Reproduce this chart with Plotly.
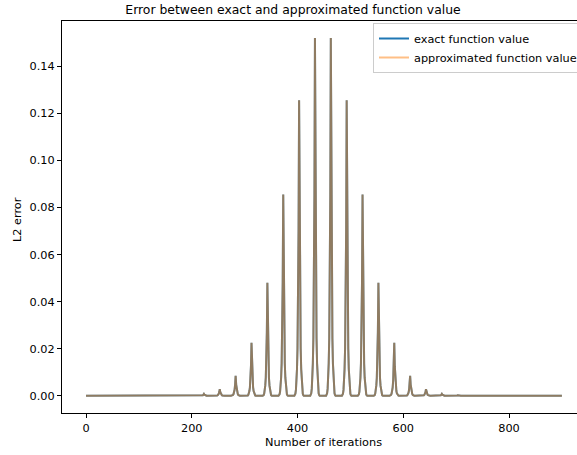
import plotly.graph_objects as go

# Peak iterations and peak L2 error values
peak_iters = [193, 223, 253, 283, 313, 343, 373, 403, 433, 463, 493, 523, 553, 583, 613, 643, 673, 703]
peak_errors = [0.0002, 0.0008, 0.0028, 0.0085, 0.0225, 0.048, 0.0855, 0.1255, 0.152,
               0.152, 0.1255, 0.0855, 0.048, 0.0225, 0.0085, 0.0028, 0.0008, 0.0002]
# Shape of a spike (relative to its peak), by iteration offset
spike_offsets = [-9, -8, -7, -6, -5, -4, -3, -2, -1, 0, 1, 2, 3, 4, 5, 6, 7, 8, 9]
spike_shape = [0, 0.002, 0.007, 0.02, 0.045, 0.09, 0.16, 0.3, 0.56, 1.0,
               0.56, 0.3, 0.16, 0.09, 0.045, 0.02, 0.007, 0.002, 0]
first_iter, last_iter = 0, 900

iters = [first_iter]
errors = [0.0]
for c, h in zip(peak_iters, peak_errors):
    for o, s in zip(spike_offsets, spike_shape):
        iters.append(c + o)
        errors.append(h * s)
iters.append(last_iter)
errors.append(0.0)

FONT = "DejaVu Sans"
FS = 11.3
fig = go.Figure()
fig.add_trace(go.Scatter(x=iters, y=errors, mode="lines", name="exact function value",
                         line=dict(color="#1f77b4", width=2)))
fig.add_trace(go.Scatter(x=iters, y=errors, mode="lines", name="approximated function value",
                         line=dict(color="rgba(255,127,14,0.5)", width=2)))

fig.update_layout(
    width=577, height=455,
    margin=dict(l=62, r=0, t=21, b=42, autoexpand=False),
    plot_bgcolor="white", paper_bgcolor="white",
    font=dict(family=FONT, size=FS, color="black"),
    title=dict(text="Error between exact and approximated function value",
               x=293/577, xref="container", xanchor="center",
               y=1-10/455, yref="container", yanchor="middle",
               font=dict(family=FONT, size=12.4, color="black")),
    showlegend=True,
    legend=dict(x=(373-62)/515, y=1-2/392, xanchor="left", yanchor="top",
                bgcolor="rgba(255,255,255,0.8)", bordercolor="#cccccc", borderwidth=1,
                font=dict(family=FONT, size=FS, color="black"), itemwidth=30,
                tracegroupgap=0),
    xaxis=dict(range=[-45.4, 928.6], tickmode="linear", tick0=0, dtick=200,
               showgrid=False, zeroline=False, showline=True, linecolor="black",
               linewidth=1, mirror=True, ticks="outside", ticklen=4, tickcolor="black",
               tickwidth=1, tickfont=dict(family=FONT, size=FS, color="black")),
    yaxis=dict(range=[-0.0073, 0.1592], tickmode="linear", tick0=0, dtick=0.02,
               tickformat=".2f", showgrid=False, zeroline=False, showline=True,
               linecolor="black", linewidth=1, mirror=False, ticks="outside", ticklen=4,
               tickcolor="black", tickwidth=1,
               tickfont=dict(family=FONT, size=FS, color="black")),
    annotations=[
        dict(text="Number of iterations", xref="paper", yref="paper",
             x=(323-62)/515, y=-(443-413)/392, xanchor="center", yanchor="middle",
             showarrow=False, font=dict(family=FONT, size=FS, color="black")),
        dict(text="L2 error", xref="paper", yref="paper",
             x=-(62-17)/515, y=(413-220)/392, xanchor="center", yanchor="middle",
             textangle=-90, showarrow=False, font=dict(family=FONT, size=FS, color="black")),
    ],
)

fig.write_html("out.html")
